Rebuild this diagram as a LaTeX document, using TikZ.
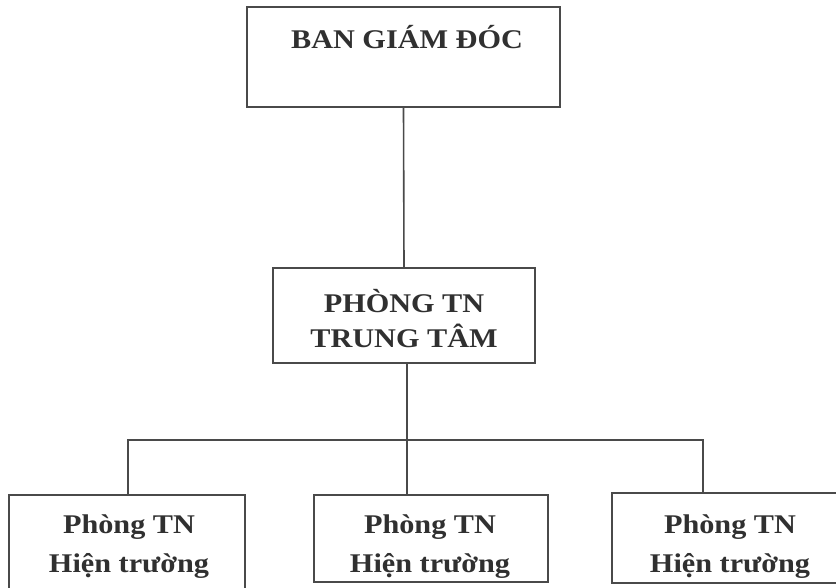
\documentclass[tikz,border=0pt]{standalone}
\usepackage{fontspec}
\setmainfont{Liberation Serif}[FakeStretch=1.12]
\definecolor{lc}{HTML}{4A4A4A}
\definecolor{tc}{HTML}{303030}
\begin{document}
\begin{tikzpicture}[x=1pt,y=-1pt,
  box/.style={draw=lc, line width=1.7pt, inner sep=0pt, fill=none},
  txt/.style={text=tc, font=\fontsize{27}{30}\selectfont\bfseries, inner sep=0pt, anchor=base},
  conn/.style={draw=lc, line width=1.6pt}]
\useasboundingbox (0,0) rectangle (836,587);
\clip (0,0) rectangle (836,587);
\fill[white] (0,0) rectangle (836,587);
% boxes
\node[box, minimum width=313pt, minimum height=100pt] (bgd) at (403.5,57) {};
\node[box, minimum width=262pt, minimum height=95pt] (tt) at (404,315.5) {};
\node[box, minimum width=236pt, minimum height=110pt] (h1) at (127,550) {};
\node[box, minimum width=234pt, minimum height=87pt] (h2) at (431,538.5) {};
\node[box, minimum width=236pt, minimum height=90pt] (h3) at (730,538) {};
% texts
\node[txt] (bgdt) at (407,48) {BAN GIÁM ĐÓC};
\node[txt] (tt1) at (404,312) {PHÒNG TN};
\node[txt] (tt2) at (404,347) {TRUNG TÂM};
\node[txt] (h1a) at (129,533) {Phòng TN};
\node[txt] (h1b) at (129,572) {Hiện trường};
\node[txt] (h2a) at (430,533) {Phòng TN};
\node[txt] (h2b) at (430,572) {Hiện trường};
\node[txt] (h3a) at (730,533) {Phòng TN};
\node[txt] (h3b) at (730,572) {Hiện trường};
% connectors
\coordinate (bl) at (128,440);
\coordinate (br) at (703,440);
\coordinate (bm) at (407,440);
\draw[conn] (bgd.south) -- (tt.north);
\draw[conn] (tt.south -| bm) -- (bm);
\draw[conn] (h1.north -| bl) -- (bl) -- (br) -- (h3.north -| br);
\draw[conn] (bm) -- (h2.north -| bm);
\end{tikzpicture}
\end{document}
